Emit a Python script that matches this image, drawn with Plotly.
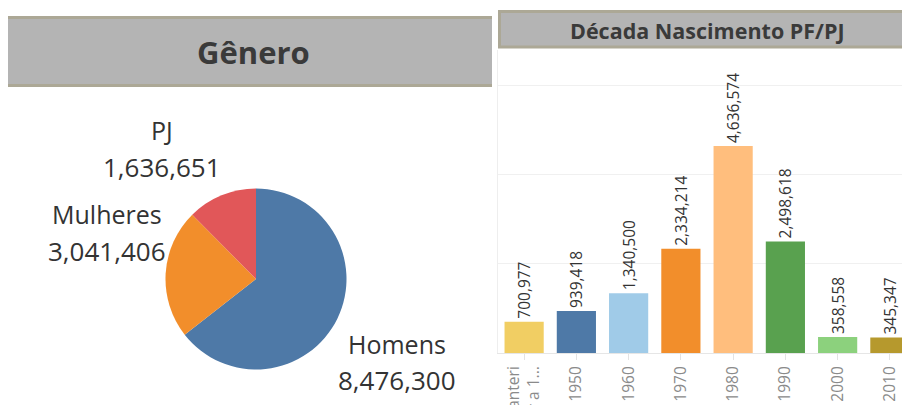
import plotly.graph_objects as go

# ---- data ----
pie_labels = ["Homens", "Mulheres", "PJ"]
pie_values = [8476300, 3041406, 1636651]
pie_colors = ["#4e79a7", "#f28e2b", "#e15759"]

decades = ["anterior a 1950", "1950", "1960", "1970", "1980", "1990", "2000", "2010"]
decade_ticktext = ["anteri<br>or a 1...", "1950", "1960", "1970", "1980", "1990", "2000", "2010"]
decade_values = [700977, 939418, 1340500, 2334214, 4636574, 2498618, 358558, 345347]
decade_colors = ["#f1ce63", "#4e79a7", "#a0cbe8", "#f28e2b", "#ffbe7d", "#59a14f", "#8cd17d", "#b6992d"]

W, H = 902, 405
FONT = "Open Sans"
TXT = "#333333"

def px(x):
    return x / W

def py(y):
    return 1 - y / H

fig = go.Figure()

# pie
cx, cy, r = 256, 279, 90.5
fig.add_trace(go.Pie(
    labels=pie_labels, values=pie_values, sort=False, direction="clockwise",
    rotation=0, textinfo="none", hoverinfo="label+value",
    marker=dict(colors=pie_colors, line=dict(width=0)),
    domain=dict(x=[px(cx - r), px(cx + r)], y=[py(cy + r), py(cy - r)]),
    showlegend=False,
))

# bars
fig.add_trace(go.Bar(
    x=list(range(len(decades))), y=decade_values,
    marker=dict(color=decade_colors, line=dict(width=0)),
    width=0.75,
    text=[f"{v:,}" for v in decade_values],
    textposition="outside", textangle=-90, constraintext="none",
    textfont=dict(family=FONT, size=15.5, color=TXT),
    cliponaxis=True, showlegend=False,
    customdata=decades, hovertemplate="%{customdata}: %{y:,}<extra></extra>",
))

base_y = 353
top_y = 50
px_per_unit = 207 / 4636574
ymax = (base_y - top_y) / px_per_unit

fig.update_layout(
    width=W, height=H,
    margin=dict(l=0, r=0, t=0, b=0, autoexpand=False),
    paper_bgcolor="white", plot_bgcolor="white",
    font=dict(family=FONT, color=TXT),
    xaxis=dict(
        domain=[px(498), 1.0], range=[-0.5, -0.5 + (902 - 498.4) / 52.2],
        tickmode="array", tickvals=list(range(len(decades))), ticktext=decade_ticktext,
        tickangle=-90, tickfont=dict(family=FONT, size=15.5, color="#8a8a8a"),
        ticks="outside", ticklen=6, tickcolor="#e3e3e3", tickson="boundaries",
        showgrid=False, showline=True, linecolor="#e6e6e6", zeroline=False,
        fixedrange=True, automargin=False,
    ),
    yaxis=dict(
        domain=[py(base_y), py(top_y)], range=[0, ymax],
        tickvals=[0, 2000000, 4000000, 6000000], showticklabels=False,
        showgrid=True, gridcolor="#f0f0f0", zeroline=False,
        showline=True, linecolor="#eeeeee", fixedrange=True, automargin=False,
    ),
    bargap=0.25,
)

# title bars
shapes = [
    dict(type="rect", xref="paper", yref="paper",
         x0=px(8), x1=px(492), y0=py(87), y1=py(16),
         fillcolor="#b4b4b4", line=dict(width=0), layer="above"),
    dict(type="rect", xref="paper", yref="paper",
         x0=px(8), x1=px(492), y0=py(19), y1=py(16),
         fillcolor="#aca896", line=dict(width=0), layer="above"),
    dict(type="rect", xref="paper", yref="paper",
         x0=px(8), x1=px(492), y0=py(87), y1=py(84),
         fillcolor="#aca896", line=dict(width=0), layer="above"),
    dict(type="rect", xref="paper", yref="paper",
         x0=px(499.5), x1=px(904), y0=py(47), y1=py(11.5),
         fillcolor="#b4b4b4", line=dict(width=3, color="#aca896"), layer="above"),
]

annotations = [
    dict(text="<b>Gênero</b>", x=px(253), y=py(52), xref="paper", yref="paper",
         showarrow=False, xanchor="center", yanchor="middle",
         font=dict(family=FONT, size=31, color="#3a3a3a")),
    dict(text="<b>Década Nascimento PF/PJ</b>", x=px(707), y=py(30), xref="paper", yref="paper",
         showarrow=False, xanchor="center", yanchor="middle",
         font=dict(family=FONT, size=21.5, color="#3a3a3a")),
]

label_pos = {"PJ": (162, 130, 167), "Mulheres": (107, 214, 251), "Homens": (397, 344, 380)}
for lab, val in zip(pie_labels, pie_values):
    lx, ly1, ly2 = label_pos[lab]
    annotations.append(dict(text=lab, x=px(lx), y=py(ly1), xref="paper", yref="paper",
                            showarrow=False, xanchor="center", yanchor="middle",
                            font=dict(family=FONT, size=25, color=TXT)))
    annotations.append(dict(text=f"{val:,}", x=px(lx), y=py(ly2), xref="paper", yref="paper",
                            showarrow=False, xanchor="center", yanchor="middle",
                            font=dict(family=FONT, size=26, color=TXT)))

fig.update_layout(shapes=shapes, annotations=annotations)

fig.write_html(
    "out.html",
    config={"displayModeBar": False},
    post_script="document.body.style.margin='0';document.body.style.overflow='hidden';",
)
